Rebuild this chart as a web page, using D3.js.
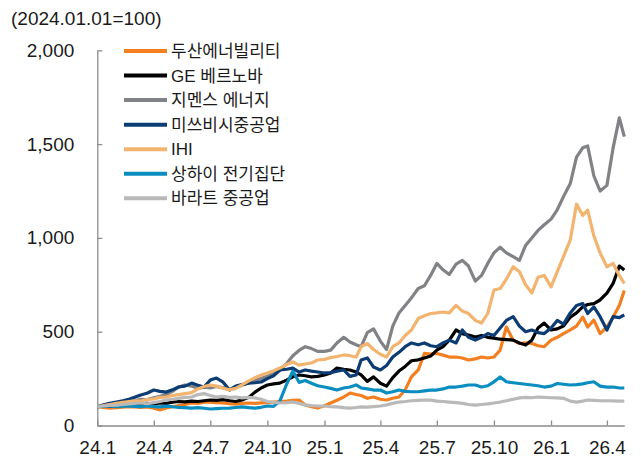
<!DOCTYPE html>
<html>
<head>
<meta charset="utf-8">
<script src="https://cdn.jsdelivr.net/npm/d3@7"></script>
<style>
  body { margin: 0; background: #fff; }
  svg text { font-family: "Liberation Sans", Arial, "Noto Sans CJK KR", sans-serif; fill: #1a1a1a; }
  .axis path, .axis line { stroke: #8c8c8c; stroke-width: 1.3; }
</style>
</head>
<body>
<div id="chart"></div>
<script>
// 2024.01.01 = 100, sampled on the 1st, 11th and 21st of each month (last point 2026-04-29)
var dates = [];
for (var y = 2024; y <= 2026; y++) {
  for (var m = 0; m < 12; m++) {
    if (y == 2026 && m > 3) break;
    [1, 11, 21].forEach(function(d) { dates.push(new Date(y, m, d)); });
  }
}
dates.push(new Date(2026, 3, 29));

var names = ["두산에너빌리티", "GE 베르노바", "지멘스 에너지", "미쓰비시중공업", "IHI", "상하이 전기집단", "바라트 중공업"];
var colors = ["#f47f20", "#000000", "#808285", "#0b3c73", "#f2b46f", "#0a8ec0", "#b9b9b9"];

var doosan = [100, 96, 93, 95, 98, 100, 99, 96, 99, 92, 83, 93, 100, 106, 112, 120, 118, 124,
  125, 122, 120, 116, 114, 118, 120, 118, 121, 122, 125, 128, 130, 134, 136, 109, 100, 93,
  105, 120, 135, 152, 173, 165, 160, 145, 152, 140, 136, 145, 152, 190, 259, 296, 384, 380,
  384, 375, 365, 365, 360, 349, 355, 365, 360, 365, 402, 525, 455, 437, 440, 437, 425, 420,
  455, 470, 490, 510, 530, 578, 525, 562, 490, 525, 578, 640, 720];
var geVernova = [100, 104, 102, 106, 110, 108, 112, 115, 118, 115, 120, 118, 124, 128, 126, 130, 128, 132,
  136, 134, 138, 132, 128, 136, 150, 178, 200, 216, 222, 226, 242, 260, 269, 265, 259, 262,
  269, 280, 306, 300, 296, 285, 270, 235, 259, 225, 210, 255, 290, 315, 345, 350, 360, 370,
  402, 420, 455, 509, 490, 482, 472, 480, 470, 466, 460, 458, 455, 440, 429, 455, 520, 546,
  509, 515, 530, 578, 600, 632, 645, 650, 669, 706, 757, 850, 829];
var siemens = [100, 103, 106, 110, 118, 126, 132, 140, 138, 148, 156, 165, 182, 205, 216, 210, 198, 204,
  200, 208, 202, 192, 204, 214, 228, 240, 250, 262, 278, 292, 330, 372, 400, 420, 410, 395,
  395, 402, 440, 470, 445, 430, 420, 495, 515, 450, 405, 530, 600, 640, 680, 730, 745, 800,
  864, 830, 805, 860, 880, 850, 770, 800, 864, 920, 950, 920, 900, 880, 960, 1000, 1040, 1070,
  1100, 1150, 1220, 1290, 1430, 1480, 1490, 1330, 1250, 1280, 1480, 1640, 1540];
var mitsubishi = [100, 110, 118, 125, 132, 140, 150, 163, 172, 189, 182, 178, 190, 205, 210, 226, 215, 205,
  242, 253, 233, 189, 210, 218, 226, 228, 232, 250, 265, 296, 300, 306, 285, 296, 290, 285,
  280, 282, 290, 296, 262, 269, 349, 360, 312, 296, 320, 365, 390, 420, 440, 430, 440, 425,
  420, 440, 455, 440, 509, 470, 455, 470, 490, 480, 520, 560, 580, 530, 500, 509, 495, 490,
  520, 560, 540, 600, 640, 650, 597, 632, 580, 509, 580, 575, 590];
var ihi = [100, 106, 112, 118, 124, 128, 132, 130, 138, 142, 150, 152, 160, 165, 170, 175, 195, 208,
  216, 210, 200, 190, 198, 216, 238, 255, 269, 280, 292, 306, 325, 339, 322, 328, 333, 349,
  352, 362, 368, 376, 372, 365, 420, 437, 405, 380, 365, 420, 440, 480, 509, 570, 585, 597,
  600, 605, 600, 640, 610, 597, 560, 546, 597, 722, 730, 780, 846, 820, 750, 706, 790, 800,
  739, 820, 900, 990, 1180, 1120, 1148, 1010, 920, 846, 864, 800, 757];
var shanghai = [100, 102, 104, 101, 103, 105, 102, 100, 104, 101, 99, 103, 100, 97, 95, 93, 95, 92,
  88, 90, 92, 93, 96, 99, 95, 93, 97, 104, 102, 130, 220, 290, 230, 240, 225, 212,
  205, 198, 189, 200, 205, 216, 200, 195, 189, 189, 173, 180, 189, 182, 180, 180, 185, 189,
  189, 195, 205, 205, 210, 216, 216, 205, 212, 233, 259, 233, 228, 224, 220, 216, 212, 205,
  210, 224, 220, 216, 218, 222, 228, 233, 210, 205, 205, 200, 200];
var bharat = [100, 104, 107, 109, 112, 115, 118, 120, 116, 122, 128, 136, 140, 145, 150, 152, 165, 170,
  160, 152, 155, 150, 152, 147, 150, 147, 140, 128, 124, 120, 122, 125, 118, 110, 106, 104,
  104, 100, 99, 95, 93, 96, 99, 98, 101, 104, 110, 118, 125, 128, 132, 134, 136, 135,
  130, 128, 125, 122, 118, 112, 109, 112, 115, 120, 125, 132, 140, 147, 150, 148, 152, 150,
  148, 147, 145, 130, 125, 130, 136, 134, 132, 132, 131, 130, 130];

var seriesValues = [doosan, geVernova, siemens, mitsubishi, ihi, shanghai, bharat];

var yTicks = [0, 500, 1000, 1500, 2000];
var xTickDates = [];
for (var q = 0; q < 10; q++) xTickDates.push(new Date(2024, q * 3, 1));

var W = 641, H = 461;
var svg = d3.select("#chart").append("svg")
    .attr("width", W)
    .attr("height", H);

var x = d3.scaleTime()
    .domain([dates[0], dates[dates.length - 1]])
    .range([97.3, 624.3]);
var y = d3.scaleLinear()
    .domain([0, 2000])
    .range([425.5, 50.3]);

// axes (ticks point inward)
svg.append("g")
    .attr("class", "axis")
    .attr("transform", "translate(0," + y(0) + ")")
    .call(d3.axisBottom(x)
        .tickValues(xTickDates)
        .tickSizeInner(-5).tickSizeOuter(0).tickPadding(15)
        .tickFormat(function(d) { return String(d.getFullYear()).slice(2) + "." + (d.getMonth() + 1); }))
    .call(function(g) { g.selectAll("text").style("font-size", "19px"); });

svg.append("g")
    .attr("class", "axis")
    .attr("transform", "translate(" + x(dates[0]) + ",0)")
    .call(d3.axisLeft(y)
        .tickValues(yTicks)
        .tickSizeInner(-5).tickSizeOuter(0).tickPadding(23)
        .tickFormat(d3.format(",")))
    .call(function(g) { g.selectAll("text").style("font-size", "19px"); });

svg.selectAll(".axis text").attr("fill", "#1a1a1a");

// lines
var line = d3.line()
    .x(function(d, i) { return x(dates[i]); })
    .y(function(d) { return y(d); });

svg.selectAll(".series")
    .data(seriesValues)
    .enter().append("path")
    .attr("class", "series")
    .attr("d", line)
    .attr("fill", "none")
    .attr("stroke", function(d, i) { return colors[i]; })
    .attr("stroke-width", 3.2)
    .attr("stroke-linejoin", "round");

// unit label
svg.append("text")
    .attr("x", 11)
    .attr("y", 25)
    .style("font-size", "19px")
    .text("(2024.01.01=100)");

// legend
var legend = svg.selectAll(".legend")
    .data(names)
    .enter().append("g")
    .attr("class", "legend")
    .attr("transform", function(d, i) { return "translate(124," + (51 + i * 24.55) + ")"; });

legend.append("line")
    .attr("x1", 0).attr("x2", 43)
    .attr("stroke", function(d, i) { return colors[i]; })
    .attr("stroke-width", 4);

legend.append("text")
    .attr("x", 47)
    .attr("dy", "0.36em")
    .style("font-size", "17px")
    .style("font-family", "'Liberation Sans', 'Noto Sans CJK KR', sans-serif")
    .text(function(d) { return d; });
</script>
</body>
</html>
